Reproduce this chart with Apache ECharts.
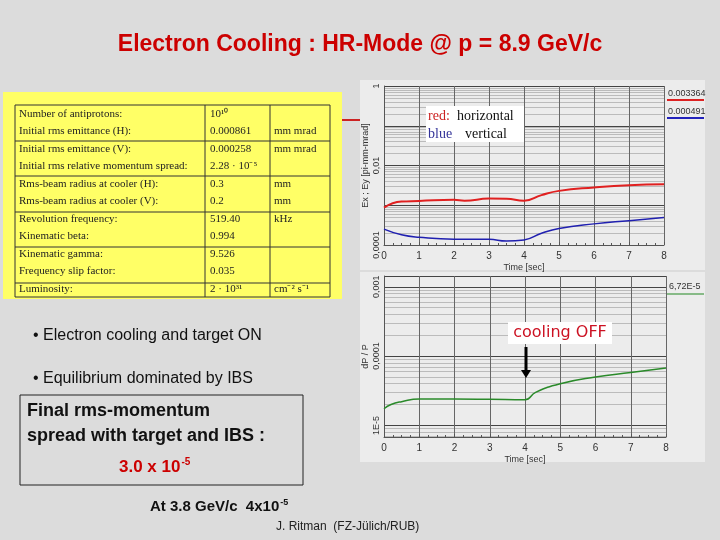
<!DOCTYPE html>
<html lang="en">
<head>
<meta charset="UTF-8">
<title>Electron Cooling</title>
<script src="https://cdn.jsdelivr.net/npm/echarts@6/dist/echarts.min.js"></script>
<style>
  html, body { margin: 0; padding: 0; background: #dcdcdc; }
  #main { width: 720px; height: 540px; }
</style>
</head>
<body>
<div id="main"></div>
<script>
// data
var timeTop = [0, 0.5, 1, 2, 2.3, 3, 3.5, 4, 4.5, 5, 6, 7, 8];
var horizontal = [0.00087, 0.00124, 0.00128, 0.00137, 0.0013, 0.00147, 0.00145, 0.0013, 0.0018, 0.0023, 0.0028, 0.0032, 0.003364];
var vertical = [0.00025, 0.00018, 0.000156, 0.00014, 0.00014, 0.000139, 0.000126, 0.000134, 0.000197, 0.00026, 0.00034, 0.00041, 0.000491];
var timeBottom = [0, 0.2, 0.5, 1, 2, 3, 4, 4.3, 5, 6, 7, 8];
var dpp = [0.0000174, 0.000020, 0.000022, 0.000024, 0.000024, 0.0000238, 0.0000235, 0.000030, 0.000040, 0.000050, 0.000058, 0.0000672];

var tableRows = [
    ['Number of antiprotons:', '10¹⁰', ''],
    ['Initial rms emittance (H):', '0.000861', 'mm mrad'],
    ['Initial rms emittance (V):', '0.000258', 'mm mrad'],
    ['Initial rms relative momentum spread:', '2.28 · 10⁻⁵', ''],
    ['Rms-beam radius at cooler (H):', '0.3', 'mm'],
    ['Rms-beam radius at cooler (V):', '0.2', 'mm'],
    ['Revolution frequency:', '519.40', 'kHz'],
    ['Kinematic beta:', '0.994', ''],
    ['Kinematic gamma:', '9.526', ''],
    ['Frequency slip factor:', '0.035', ''],
    ['Luminosity:', '2 · 10³¹', 'cm⁻² s⁻¹']
];

function pairs(xs, ys) {
    return xs.map(function (x, i) { return [x, ys[i]]; });
}

var g = [];
// chart panels
g.push({ type: 'rect', shape: { x: 360, y: 80, width: 345, height: 190 }, style: { fill: '#ececec' } });
g.push({ type: 'rect', shape: { x: 360, y: 272, width: 345, height: 190 }, style: { fill: '#ececec' } });
// yellow box with table
g.push({ type: 'rect', shape: { x: 3, y: 92, width: 339, height: 207 }, style: { fill: '#ffff66' } });
g.push({ type: 'rect', shape: { x: 15, y: 105, width: 315, height: 192 }, style: { fill: 'none', stroke: '#333', lineWidth: 1 } });
g.push({ type: 'line', shape: { x1: 205, y1: 105, x2: 205, y2: 297 }, style: { stroke: '#333' } });
g.push({ type: 'line', shape: { x1: 270, y1: 105, x2: 270, y2: 297 }, style: { stroke: '#333' } });
[141, 176, 212, 247, 283].forEach(function (y) {
    g.push({ type: 'line', shape: { x1: 15, y1: y, x2: 330, y2: y }, style: { stroke: '#333' } });
});
tableRows.forEach(function (r, i) {
    var y = 114 + i * 17.5;
    var st = { fill: '#222', font: '11px "Liberation Serif"', textVerticalAlign: 'middle' };
    g.push({ type: 'text', style: Object.assign({ x: 19, y: y, text: r[0] }, st) });
    g.push({ type: 'text', style: Object.assign({ x: 210, y: y, text: r[1] }, st) });
    g.push({ type: 'text', style: Object.assign({ x: 274, y: y, text: r[2] }, st) });
});
g.push({ type: 'line', shape: { x1: 342, y1: 120, x2: 360, y2: 120 }, style: { stroke: '#cc2222', lineWidth: 2 } });

// title
g.push({ type: 'text', style: { x: 360, y: 45, text: 'Electron Cooling : HR-Mode @ p = 8.9 GeV/c', fill: '#cc0000',
    font: 'bold 23px "Liberation Sans"', textAlign: 'center', textVerticalAlign: 'middle' } });

// bullets
var bs = { fill: '#111', font: '16px "Liberation Sans"', textVerticalAlign: 'middle' };
g.push({ type: 'text', style: Object.assign({ x: 33, y: 336, text: '• Electron cooling and target ON' }, bs) });
g.push({ type: 'text', style: Object.assign({ x: 33, y: 379, text: '• Equilibrium dominated by IBS' }, bs) });
g.push({ type: 'rect', shape: { x: 20, y: 395, width: 283, height: 90 }, style: { fill: 'none', stroke: '#222', lineWidth: 1 } });
var fb = { fill: '#111', font: 'bold 18px "Liberation Sans"', textVerticalAlign: 'middle' };
g.push({ type: 'text', style: Object.assign({ x: 27, y: 411, text: 'Final rms-momentum' }, fb) });
g.push({ type: 'text', style: Object.assign({ x: 27, y: 436, text: 'spread with target and IBS :' }, fb) });
g.push({ type: 'text', style: { x: 119, y: 467, text: '{a|3.0 x 10}{s|-5}', textVerticalAlign: 'middle',
    rich: { a: { fill: '#cc0000', font: 'bold 17px "Liberation Sans"' },
            s: { fill: '#cc0000', font: 'bold 10px "Liberation Sans"', padding: [0, 0, 10, 1] } } } });
g.push({ type: 'text', style: { x: 150, y: 507, text: '{a|At 3.8 GeV/c  4x10}{s|-5}', textVerticalAlign: 'middle',
    rich: { a: { fill: '#111', font: 'bold 15px "Liberation Sans"' },
            s: { fill: '#111', font: 'bold 9px "Liberation Sans"', padding: [0, 0, 9, 1] } } } });
g.push({ type: 'text', style: { x: 276, y: 527, text: 'J. Ritman  (FZ-Jülich/RUB)', fill: '#222', font: '12px "Liberation Sans"', textVerticalAlign: 'middle' } });

// chart annotations, drawn above the grids
var overlay = [];
overlay.push({ type: 'rect', shape: { x: 426, y: 106, width: 98, height: 36 }, style: { fill: '#fff' } });
overlay.push({ type: 'text', style: { x: 428, y: 116, text: 'red:', fill: '#cc2222', font: '14px "Liberation Serif"', textVerticalAlign: 'middle' } });
overlay.push({ type: 'text', style: { x: 457, y: 116, text: 'horizontal', fill: '#111', font: '14px "Liberation Serif"', textVerticalAlign: 'middle' } });
overlay.push({ type: 'text', style: { x: 428, y: 134, text: 'blue', fill: '#333399', font: '14px "Liberation Serif"', textVerticalAlign: 'middle' } });
overlay.push({ type: 'text', style: { x: 465, y: 134, text: 'vertical', fill: '#111', font: '14px "Liberation Serif"', textVerticalAlign: 'middle' } });
overlay.push({ type: 'text', style: { x: 668, y: 94, text: '0.003364', fill: '#333', font: '9px "Liberation Sans"', textVerticalAlign: 'middle' } });
overlay.push({ type: 'line', shape: { x1: 667, y1: 100, x2: 704, y2: 100 }, style: { stroke: '#dd2222', lineWidth: 2 } });
overlay.push({ type: 'text', style: { x: 668, y: 112, text: '0.000491', fill: '#333', font: '9px "Liberation Sans"', textVerticalAlign: 'middle' } });
overlay.push({ type: 'line', shape: { x1: 667, y1: 118, x2: 704, y2: 118 }, style: { stroke: '#2222bb', lineWidth: 2 } });
overlay.push({ type: 'text', style: { x: 669, y: 287, text: '6,72E-5', fill: '#333', font: '9px "Liberation Sans"', textVerticalAlign: 'middle' } });
overlay.push({ type: 'line', shape: { x1: 667, y1: 294, x2: 704, y2: 294 }, style: { stroke: '#228822', lineWidth: 1 } });
overlay.push({ type: 'rect', shape: { x: 508, y: 322, width: 104, height: 22 }, style: { fill: '#fff' } });
overlay.push({ type: 'text', style: { x: 560, y: 333, text: 'cooling OFF', fill: '#cc1122', font: '16px "DejaVu Sans"', textAlign: 'center', textVerticalAlign: 'middle' } });
overlay.push({ type: 'rect', shape: { x: 524.5, y: 347, width: 3, height: 24 }, style: { fill: '#000' } });
overlay.push({ type: 'polygon', shape: { points: [[521, 370], [531, 370], [526, 378]] }, style: { fill: '#000' } });
overlay.forEach(function (el) { el.z = 100; g.push(el); });

function labelFmt(shown) {
    return function (v) {
        var e = Math.round(Math.log10(v));
        if (Math.abs(Math.log10(v) - e) > 0.01 || shown.indexOf(e) < 0) return '';
        return { '0': '1', '-2': '0,01', '-3': '0,001', '-4': '0,0001', '-5': '1E-5' }[String(e)];
    };
}

var xAxisBase = {
    type: 'value', min: 0, max: 8, interval: 1,
    name: 'Time [sec]', nameLocation: 'middle', nameGap: 18,
    nameTextStyle: { fontSize: 9, color: '#333' },
    axisLine: { lineStyle: { color: '#555' } },
    axisTick: { show: true, inside: true, length: 3, lineStyle: { color: '#555' } },
    minorTick: { show: true, splitNumber: 4, length: 2 },
    axisLabel: { fontSize: 10, color: '#333', margin: 6 },
    splitLine: { show: true, lineStyle: { color: '#666', width: 1 } }
};

function yAxisBase(idx, min, max, name, shown) {
    return {
        gridIndex: idx, type: 'log', logBase: 10, min: min, max: max,
        name: name, nameLocation: 'middle', nameGap: 14, nameRotate: 90,
        nameTextStyle: { fontSize: 9, color: '#333' },
        axisLine: { show: true, lineStyle: { color: '#555' } },
        axisTick: { show: false },
        axisLabel: { rotate: 90, fontSize: 9, color: '#333', margin: 3, formatter: labelFmt(shown) },
        splitLine: { show: true, lineStyle: { color: '#444' } },
        minorTick: { show: false, splitNumber: 9 },
        minorSplitLine: { show: true, lineStyle: { color: '#bbb' } }
    };
}

var option = {
    animation: false,
    graphic: { elements: g },
    grid: [
        { left: 384, top: 86, width: 280, height: 159, backgroundColor: '#fff', show: true, borderColor: '#999' },
        { left: 384, top: 276, width: 282, height: 161, backgroundColor: '#fff', show: true, borderColor: '#999' }
    ],
    xAxis: [
        Object.assign({ gridIndex: 0 }, xAxisBase),
        Object.assign({ gridIndex: 1 }, xAxisBase)
    ],
    yAxis: [
        yAxisBase(0, 0.0001, 1, 'Ex ; Ey [pi-mm-mrad]', [0, -2, -4]),
        yAxisBase(1, 0.0000068, 0.00143, 'dP / P', [-3, -4, -5])
    ],
    series: [
        { type: 'line', xAxisIndex: 0, yAxisIndex: 0, data: pairs(timeTop, horizontal), smooth: true,
          showSymbol: false, lineStyle: { color: '#e02020', width: 2 } },
        { type: 'line', xAxisIndex: 0, yAxisIndex: 0, data: pairs(timeTop, vertical), smooth: true,
          showSymbol: false, lineStyle: { color: '#2020b0', width: 1.5 } },
        { type: 'line', xAxisIndex: 1, yAxisIndex: 1, data: pairs(timeBottom, dpp), smooth: true,
          showSymbol: false, lineStyle: { color: '#2a8a2a', width: 1.5 } }
    ]
};

var myChart = echarts.init(document.getElementById('main'));
myChart.setOption(option);
</script>
</body>
</html>
